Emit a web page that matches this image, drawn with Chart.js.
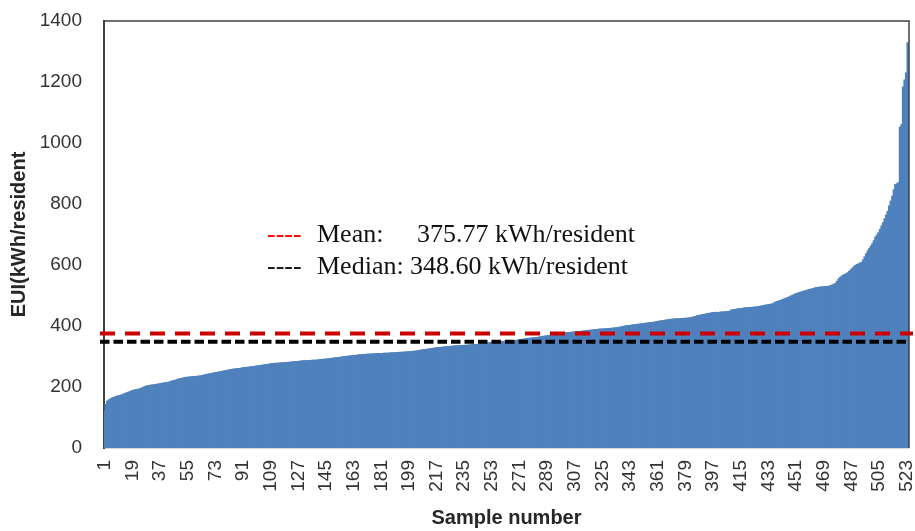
<!DOCTYPE html>
<html>
<head>
<meta charset="utf-8">
<script src="https://cdn.jsdelivr.net/npm/chart.js@4"></script>
<style>
html, body { margin: 0; padding: 0; background: #fff; }
canvas { display: block; }
</style>
</head>
<body>
<canvas id="chart" width="915" height="531"></canvas>
<script>
// Energy use intensity per resident for each sample, sorted ascending
const EUI = [
  119, 141, 152, 156, 159, 162, 164, 166, 168, 169, 170,
  172, 174, 176, 178, 180, 182, 184, 186, 188,
  189, 190, 191, 192, 194, 196, 199, 201,
  202, 203, 204, 205, 205, 206, 207, 208, 209,
  210, 211, 212, 212, 213, 214,
  216, 218, 219, 220, 222, 224, 225,
  226, 227, 229, 230,
  230, 231, 231, 232, 232, 233, 233, 234, 234,
  235, 236, 238, 239,
  240, 241, 242, 243, 244, 245, 246, 247, 248,
  249, 250, 251, 252, 253, 254, 255, 256,
  257, 257, 258, 259, 259, 260, 261,
  262, 262, 263, 263, 264, 265, 265, 266, 267,
  268, 268, 269, 270, 271, 271, 272, 273, 274, 275,
  275, 276, 276, 276, 277, 277, 277, 278, 278,
  279, 279, 280, 280, 281, 281, 282, 282, 283,
  283, 284, 284, 284, 285, 285, 285, 286, 286, 286, 286,
  287, 288, 288, 289, 289, 290, 290, 291,
  292, 292, 293, 294, 294, 295, 295, 296, 297,
  298, 298, 299, 299, 300, 301, 301, 302, 302, 303, 304,
  304, 305, 305, 305, 306, 306, 306, 306, 307, 307, 307,
  308, 308, 308, 308, 309, 309, 309, 309, 310, 310,
  310, 311, 311, 311, 312, 312, 312, 313, 313, 313, 314, 314, 315, 315, 316, 316,
  317, 318, 319, 320, 320, 321, 322, 323, 323, 324, 325, 326, 327,
  327, 328, 328, 329, 329, 330, 330, 331, 331, 332,
  332, 333, 333, 333, 334, 334, 334, 335, 335, 335, 336, 336, 337, 337, 337, 338,
  338, 339, 339, 340, 341, 341, 342, 343, 344, 345,
  345, 346, 346, 346, 347, 347, 347, 348, 348.4, 348.8, 349, 349, 350, 350, 350, 351,
  352, 353, 354, 355, 355, 356,
  357, 358, 358, 359, 359, 360, 360,
  361, 362, 363, 364, 365, 365, 366, 367,
  368, 369, 370, 371, 371, 372, 373, 374, 374, 375, 376,
  376, 377, 377, 378, 378, 379, 379, 380, 380, 381, 381,
  382, 382, 383, 384, 384, 385, 385, 386, 387,
  387, 388, 388, 388, 389, 389, 389, 390, 390, 391, 391, 392, 392,
  393, 394, 395, 396, 397, 398, 399, 400,
  400, 401, 402, 402, 403, 404, 404, 405, 406, 406, 407,
  408, 408, 409, 410, 410, 411, 412,
  413, 414, 415, 415, 416, 417, 418, 419, 420,
  420, 421, 421, 421, 422, 422, 422, 423, 423, 424, 424, 424, 425,
  426, 427, 429, 430, 432, 433,
  434, 435, 436, 437, 438, 439, 440, 441, 442,
  442, 443, 443, 443, 444, 444, 444, 445, 445, 446, 447,
  450, 452, 452, 453, 454, 455, 455, 456,
  457, 457, 458, 458, 459, 459, 460, 460, 461, 461, 462, 463,
  464, 465, 466, 467, 468, 469, 470, 471,
  474, 477, 479, 480,
  482, 484, 486, 488, 490, 492, 494,
  497, 499, 502, 504,
  506, 507, 509, 510, 512, 513, 515, 516, 518,
  519, 521, 522, 524,
  525, 525, 526, 526, 527, 527, 528, 528, 529,
  531, 533, 535, 538,
  545, 552, 557, 562,
  565, 567, 570, 573,
  578, 583, 588, 593, 597,
  600, 602, 605, 607,
  615, 625, 635, 644,
  652, 660, 668, 678,
  690, 697, 704,
  715, 726, 737,
  750, 762, 775,
  792, 808, 824,
  845, 862, 865, 868,
  1050, 1058, 1182, 1205, 1228, 1327
];

// Sample numbers along the x axis; every 18th one is labelled (1, 19, 37, ...)
const categories = EUI.map((_, i) => String(i + 1));
const LABEL_STEP = 18;

// Value axis range and tick spacing
const Y_MIN = 0;
const Y_MAX = 1400;
const Y_STEP = 200;

// Summary statistics shown as dashed reference lines
const MEAN = 375.77;
const MEDIAN = 348.60;
const UNIT = 'kWh/resident';

const tickFont = { family: '"Liberation Sans", Arial, sans-serif', size: 19 };
const titleFont = { family: '"Liberation Sans", Arial, sans-serif', size: 20, weight: 'bold' };

// Keep the plot area fixed: no extra room reserved for overhanging tick labels
function clearScalePadding(scale) {
  scale.paddingLeft = 0;
  scale.paddingRight = 0;
  scale.paddingTop = 0;
  scale.paddingBottom = 0;
}

const statsPlugin = {
  id: 'statsOverlay',
  afterDatasetsDraw(chart) {
    const { ctx, chartArea: a, scales: { y } } = chart;
    ctx.save();

    // plot frame: top and right edges
    ctx.strokeStyle = '#404040';
    ctx.lineWidth = 1.5;
    ctx.beginPath();
    ctx.moveTo(a.left, a.top);
    ctx.lineTo(a.right, a.top);
    ctx.lineTo(a.right, a.bottom);
    ctx.stroke();

    // mean line
    const yMean = y.getPixelForValue(MEAN);
    ctx.lineWidth = 4;
    ctx.strokeStyle = '#cc0000';
    ctx.setLineDash([15, 10]);
    ctx.beginPath();
    ctx.moveTo(a.left - 4, yMean);
    ctx.lineTo(a.right + 4, yMean);
    ctx.stroke();

    // median line
    const yMedian = y.getPixelForValue(MEDIAN);
    ctx.strokeStyle = '#000000';
    ctx.setLineDash([9.5, 4]);
    ctx.beginPath();
    ctx.moveTo(a.left - 4, yMedian);
    ctx.lineTo(a.right + 1, yMedian);
    ctx.stroke();

    // key text for the two lines
    ctx.setLineDash([]);
    ctx.font = '26px "Liberation Serif", "Times New Roman", serif';
    ctx.textBaseline = 'alphabetic';
    ctx.textAlign = 'left';

    ctx.fillStyle = '#ff0000';
    ctx.fillText('----', 267, 242);
    ctx.fillStyle = '#111111';
    ctx.fillText('Mean:', 317, 242);
    ctx.fillText(MEAN.toFixed(2) + ' ' + UNIT, 417, 242);

    ctx.fillStyle = '#111111';
    ctx.fillText('----', 267, 274);
    ctx.fillText('Median:', 317, 274);
    ctx.fillText(MEDIAN.toFixed(2) + ' ' + UNIT, 410, 274);

    ctx.restore();
  }
};

new Chart(document.getElementById('chart'), {
  type: 'bar',
  data: {
    labels: categories,
    datasets: [{
      data: EUI,
      backgroundColor: '#4f81bd',
      borderWidth: 0,
      inflateAmount: 1,
      barPercentage: 1,
      categoryPercentage: 1
    }]
  },
  options: {
    responsive: false,
    animation: false,
    devicePixelRatio: 1,
    layout: { padding: { top: 21, right: 6, left: 0, bottom: 0 } },
    plugins: {
      legend: { display: false },
      tooltip: { enabled: false }
    },
    scales: {
      x: {
        grid: { display: false, drawTicks: false },
        border: { display: true, color: '#d9d9d9', width: 1 },
        ticks: {
          autoSkip: false,
          minRotation: 90,
          maxRotation: 90,
          padding: 12,
          color: '#333333',
          font: tickFont,
          callback: (value, index) => (index % LABEL_STEP === 0 ? categories[index] : null)
        },
        title: {
          display: true,
          text: 'Sample number',
          color: '#262626',
          font: titleFont,
          padding: { top: 0, bottom: 1 }
        },
        afterFit(scale) {
          scale.height = 83;
          clearScalePadding(scale);
        }
      },
      y: {
        min: Y_MIN,
        max: Y_MAX,
        grid: { display: false, drawTicks: false },
        border: { display: true, color: '#404040', width: 2 },
        ticks: {
          stepSize: Y_STEP,
          padding: 22,
          color: '#333333',
          font: tickFont,
          callback: (value) => String(value)
        },
        title: {
          display: true,
          text: 'EUI(kWh/resident',
          color: '#262626',
          font: titleFont,
          padding: { top: 7, bottom: 0 }
        },
        afterFit(scale) {
          scale.width = 104;
          clearScalePadding(scale);
        }
      }
    }
  },
  plugins: [statsPlugin]
});
</script>
</body>
</html>
